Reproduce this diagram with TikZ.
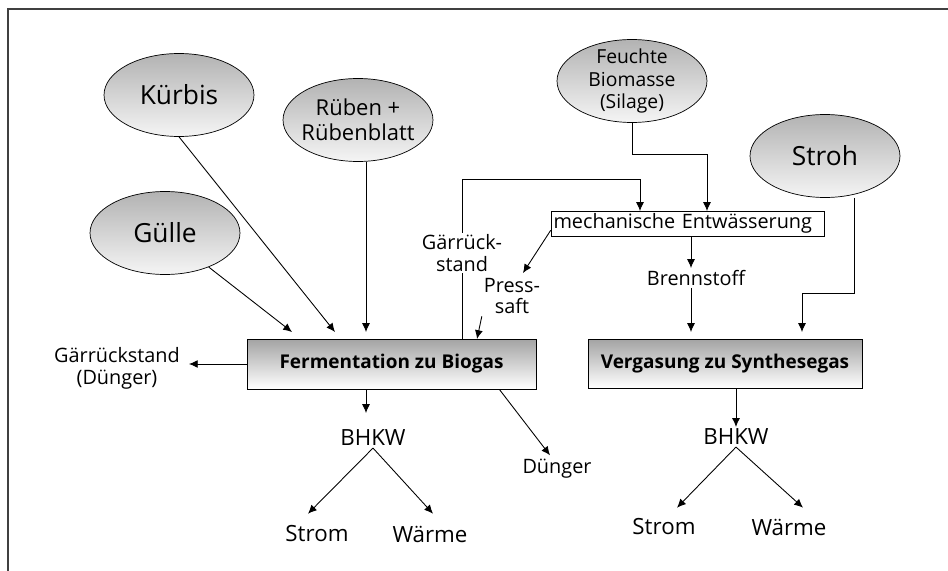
\documentclass[tikz,border=0pt]{standalone}
\usepackage{fontspec}
\setmainfont{Open Sans}
\usetikzlibrary{shapes.geometric,arrows.meta,calc}

\tikzset{
  knolle/.style={ellipse,draw,inner sep=-0.1cm,minimum width=3cm,minimum height=1.66cm,
    top color=black!30,bottom color=black!4,align=center},
  kasten/.style={draw,top color=black!36,bottom color=white,
    font=\fontsize{10.8}{13}\selectfont\bfseries},
  txt/.style={align=center,inner sep=1pt,font=\fontsize{11.3}{12.5}\selectfont},
  ausg/.style={inner sep=1pt,font=\fontsize{12.7}{15}\selectfont},
  pfeil/.style={-{Latex[length=5pt,width=4.5pt]},line width=0.5pt},
}

\begin{document}
\begin{tikzpicture}[x=0.02cm,y=-0.02cm]
      \useasboundingbox (0,0) rectangle (948,571);
      \draw[line width=1pt,black!75] (7,9) -- (948,9);
      \draw[line width=1pt,black!75] (8,9) -- (8,571);
      % Rohstoffe
      \node[knolle,font=\fontsize{15}{18}\selectfont] (kuerbis) at (179,95) {Kürbis};
      \node[knolle,font=\fontsize{12.5}{14}\selectfont] (rueben) at (358,120) {Rüben +\\Rübenblatt};
      \node[knolle,font=\fontsize{15}{18}\selectfont] (guelle) at (165,233) {Gülle};
      \node[knolle,font=\fontsize{11}{13}\selectfont] (silage) at (632,81) {Feuchte\\Biomasse\\(Silage)};
      \node[knolle,font=\fontsize{15}{18}\selectfont] (stroh) at (825,156) {Stroh};
      % Prozesse
      \node[kasten,minimum width=5.78cm,minimum height=1cm] (ferm) at (391.5,364) {Fermentation zu Biogas};
      \node[kasten,minimum width=5.48cm,minimum height=0.98cm] (verg) at (725,363.5) {Vergasung zu Synthesegas};
      \node[draw,txt,text width=5.36cm,align=left,inner xsep=0.05cm,minimum height=0.5cm] (mech) at (687.5,223.5) {mechanische Entwässerung};
      % Produkte
      \node[txt] (gdung) at (117,368) {Gärrückstand\\(Dünger)};
      \node[ausg] (bhkwA) at (373,438) {BHKW};
      \node[ausg] (stromA) at (317,534) {Strom};
      \node[ausg] (waermeA) at (430,534) {Wärme};
      \node[txt] (duenger) at (557,469) {Dünger};
      \node[ausg] (bhkwB) at (736,437) {BHKW};
      \node[ausg] (stromB) at (664,527) {Strom};
      \node[ausg] (waermeB) at (789,527) {Wärme};
      \node[txt] (brenn) at (696,278) {Brennstoff};
      \node[txt] (press) at (512,296) {Press-\\saft};
      % Pfeilspitzen
      \coordinate (f1) at (292,332);
      \coordinate (f2) at (335,332);
      \coordinate (f3) at (366,332);
      \coordinate (f4) at (477,339);
      \coordinate (g0) at (462,179);
      \coordinate (m1) at (640,211);
      \coordinate (m2) at (707,211);
      \coordinate (p1) at (523,273);
      \coordinate (b1) at (691,268);
      \coordinate (b2) at (691,332);
      \coordinate (s1) at (854,293);
      \coordinate (v2) at (802,332);
      \coordinate (a1) at (366,413);
      % Biogas
      \draw[pfeil] (guelle) -- (f1);
      \draw[pfeil] (kuerbis.south) -- (f2);
      \draw[pfeil] (f3 |- rueben.south) -- (f3);
      \draw[pfeil] (g0 |- ferm.north) -- (g0) -| (m1);
      \node[txt,fill=white] (gstand) at (462,253) {Gärrück-\\stand};
      \draw[pfeil] (silage.south) |- ($(m2)+(0,-57)$) -- (m2);
      \draw[pfeil] ($(mech.south west)+(0,-6)$) -- (p1);
      \draw[pfeil] (press.south west) -- (f4);
      \draw[pfeil,shorten >=0.14cm] (ferm.west) -- (ferm.west -| gdung.east);
      \draw[pfeil] (a1 |- ferm.south) -- (a1);
      \draw[pfeil] (bhkwA.south) -- ($(stromA.north)+(-9,-10)$);
      \draw[pfeil] (bhkwA.south) -- ($(waermeA.north)+(3,-10)$);
      \draw[pfeil] ($(ferm.south east)+(-37,0)$) -- ($(duenger.north)+(-7,-2)$);
      % Synthesegas
      \draw[pfeil] (b1 |- mech.south) -- (b1);
      \draw[pfeil] (b2 |- brenn.south) -- (b2);
      \draw[pfeil] (s1 |- stroh.south) -- (s1) -| (v2);
      \draw[pfeil] (bhkwB.north |- verg.south) -- (bhkwB.north);
      \draw[pfeil] (bhkwB.south) -- ($(stromB.north)+(13,-9)$);
      \draw[pfeil] (bhkwB.south) -- ($(waermeB.north)+(14,-9)$);
\end{tikzpicture}
\end{document}
